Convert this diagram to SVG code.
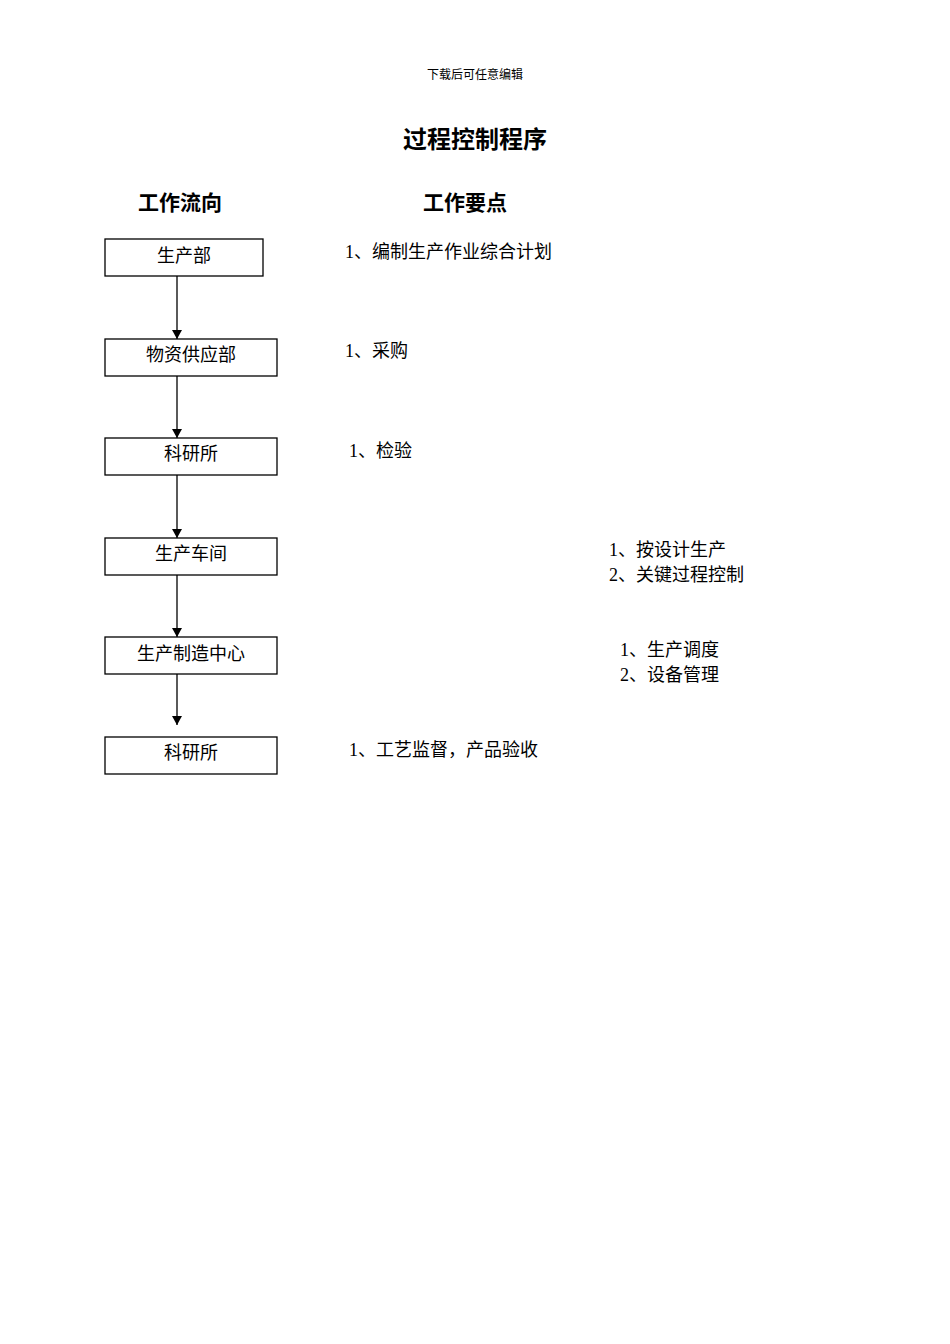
<svg xmlns="http://www.w3.org/2000/svg" width="950" height="1344" viewBox="0 0 950 1344">
<style>
.t{font-family:"Liberation Serif","Noto Sans CJK SC",serif;font-size:18px;fill:#000}
.h{font-family:"Liberation Sans","Noto Sans CJK SC",sans-serif;font-weight:bold;fill:#000}
.b{fill:#fff;stroke:#000;stroke-width:1.3}
.c{stroke:#000;stroke-width:1.3;fill:none}
</style>
<defs><marker id="a" markerWidth="10" markerHeight="10" refX="5" refY="9" orient="auto" markerUnits="userSpaceOnUse"><path d="M0,0 L10,0 L5,9 Z" transform="rotate(-90 5 5)"/></marker>
<marker id="m" markerWidth="10" markerHeight="10" refX="9" refY="5" orient="auto" markerUnits="userSpaceOnUse"><path d="M0,0 L9,5 L0,10 Z"/></marker></defs>
<rect width="950" height="1344" fill="#fff"/>
<text x="475" y="79" text-anchor="middle" class="t" style="font-size:12px">下载后可任意编辑</text>
<text x="475" y="148" text-anchor="middle" class="h" style="font-size:24px">过程控制程序</text>
<text x="180" y="210" text-anchor="middle" class="h" style="font-size:21px">工作流向</text>
<text x="465" y="210" text-anchor="middle" class="h" style="font-size:21px">工作要点</text>
<g id="n1"><rect class="b" x="105" y="239" width="158" height="37"/><text class="t" x="184" y="262" text-anchor="middle">生产部</text></g>
<g id="n2"><rect class="b" x="105" y="339" width="172" height="37"/><text class="t" x="191" y="361" text-anchor="middle">物资供应部</text></g>
<g id="n3"><rect class="b" x="105" y="438" width="172" height="37"/><text class="t" x="191" y="460" text-anchor="middle">科研所</text></g>
<g id="n4"><rect class="b" x="105" y="538" width="172" height="37"/><text class="t" x="191" y="560" text-anchor="middle">生产车间</text></g>
<g id="n5"><rect class="b" x="105" y="637" width="172" height="37"/><text class="t" x="191" y="660" text-anchor="middle">生产制造中心</text></g>
<g id="n6"><rect class="b" x="105" y="737" width="172" height="37"/><text class="t" x="191" y="759" text-anchor="middle">科研所</text></g>
<g id="connectors">
<line class="c" x1="177" y1="276" x2="177" y2="339" marker-end="url(#m)"/>
<line class="c" x1="177" y1="376" x2="177" y2="438" marker-end="url(#m)"/>
<line class="c" x1="177" y1="475" x2="177" y2="538" marker-end="url(#m)"/>
<line class="c" x1="177" y1="575" x2="177" y2="637" marker-end="url(#m)"/>
<line class="c" x1="177" y1="674" x2="177" y2="725" marker-end="url(#m)"/>
</g>
<g id="notes">
<text class="t" x="345" y="258">1、编制生产作业综合计划</text>
<text class="t" x="345" y="357">1、采购</text>
<text class="t" x="349" y="457">1、检验</text>
<text class="t" x="609" y="556">1、按设计生产</text>
<text class="t" x="609" y="581">2、关键过程控制</text>
<text class="t" x="620" y="656">1、生产调度</text>
<text class="t" x="620" y="681">2、设备管理</text>
<text class="t" x="349" y="756">1、工艺监督，产品验收</text>
</g>
</svg>
